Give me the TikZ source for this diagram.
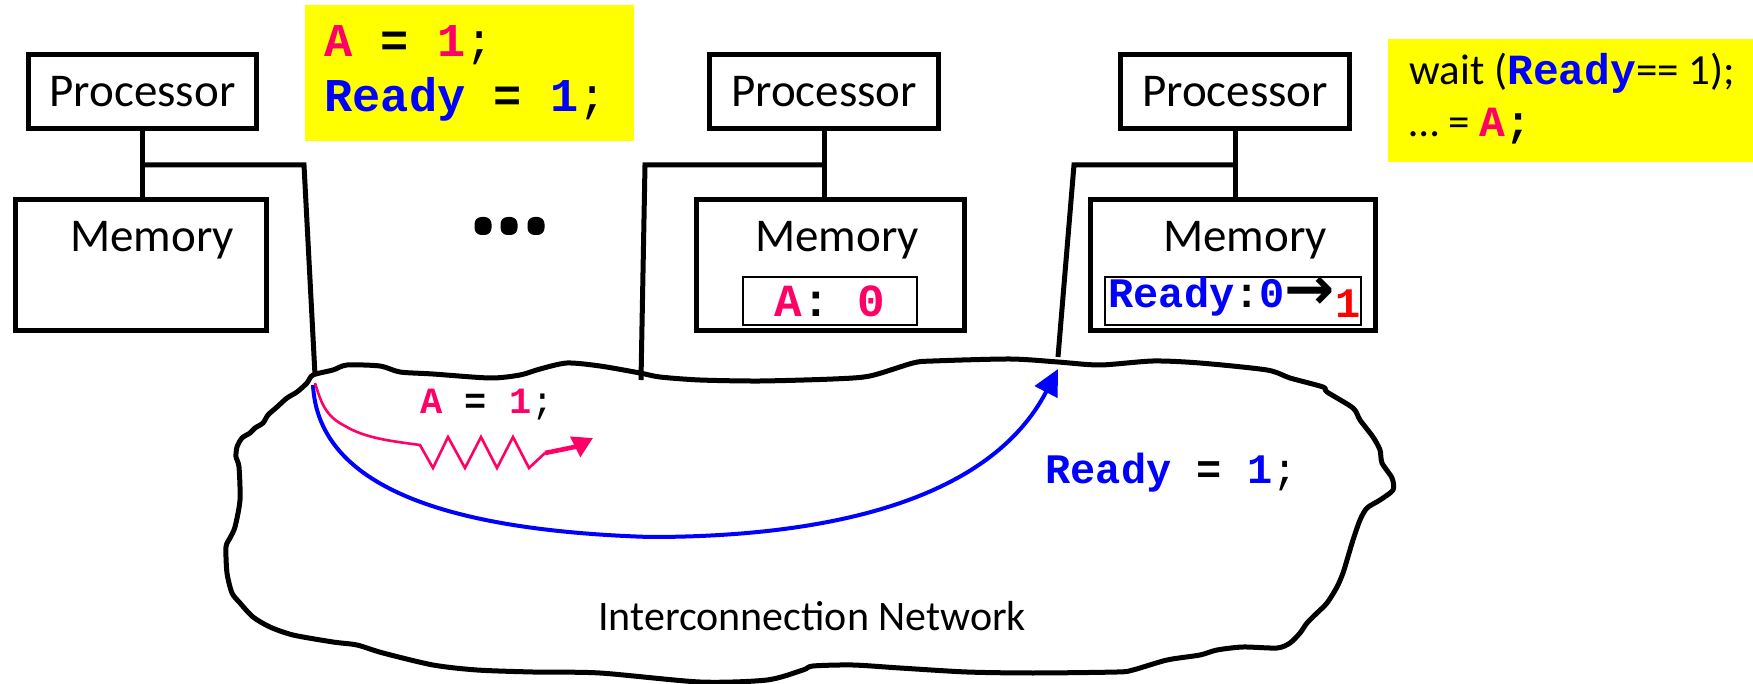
\documentclass[tikz,border=0pt]{standalone}
\usepackage{fontspec}
\setmainfont{Carlito}
\newfontfamily\cour{Liberation Mono}
\newfontfamily\djv{DejaVu Sans}
\usetikzlibrary{arrows.meta}
\definecolor{pinkc}{RGB}{255,0,102}
\definecolor{bluec}{RGB}{0,0,255}
\definecolor{redc}{RGB}{255,0,0}
\definecolor{yel}{RGB}{255,255,0}
\newcommand{\fsz}[1]{\fontsize{#1pt}{#1pt}\selectfont}
\newcommand{\cb}[2]{{\cour\bfseries\color{#1}\relax#2}}
\newcommand{\cregular}[2]{{\cour\color{#1}\relax#2}}
\begin{document}
\begin{tikzpicture}[x=0.5pt,y=-0.5pt,
  box/.style={draw, line width=2.5pt, inner sep=0pt, minimum height=37pt},
  membox/.style={draw, line width=2.5pt, inner sep=0pt, minimum height=65.5pt},
  cellbox/.style={draw, line width=1pt, inner sep=0pt, minimum height=24pt},
  lbl/.style={inner sep=0pt, anchor=base west},
  clbl/.style={inner sep=0pt, anchor=base},
  wire/.style={line width=2.5pt},
  note/.style={fill=yel, draw=none},
  dotn/.style={fill=black, inner sep=0pt, minimum width=8.5pt, minimum height=9pt, rounded corners=3.5pt},
  bigtxt/.style={font=\fsz{23.5}}]
\useasboundingbox (0,0) rectangle (1753,684);
\fill[white] (0,0) rectangle (1753,684);

% yellow notes
\fill[note] (305,5) rectangle (634,141);
\fill[note] (1388,39) rectangle (1753,162);
\node[lbl] (y1a) at (324,57) {\fsz{23.5}\cb{pinkc}{A}\cb{black}{ = }\cb{pinkc}{1}\cregular{black}{;}};
\node[lbl] (y1b) at (324,112) {\fsz{23.5}\cb{bluec}{Ready}\cb{black}{ = }\cb{bluec}{1}\cregular{black}{;}};
\node[lbl] (y2a) at (1409,85) {\fsz{21.5}wait (\cb{bluec}{Ready}== 1);};
\node[lbl] (y2b) at (1409,137) {\fsz{21.5}… = \cb{pinkc}{A}\cb{black}{;}};

% processors
\node[box, bigtxt, minimum width=114pt] (P1) at (142.5,91.5) {Processor};
\node[box, bigtxt, minimum width=114.5pt] (P2) at (824,91.5) {Processor};
\node[box, bigtxt, minimum width=114.5pt] (P3) at (1235,91.5) {Processor};

% memories
\node[membox, minimum width=125.5pt] (M1) at (141,265) {};
\node[membox, minimum width=134pt] (M2) at (830.5,265) {};
\node[membox, minimum width=142.5pt] (M3) at (1233,265) {};
\node[clbl, bigtxt] (m1t) at (152,252) {Memory};
\node[clbl, bigtxt] (m2t) at (837,252) {Memory};
\node[clbl, bigtxt] (m3t) at (1245,252) {Memory};

% memory cells
\node[cellbox, minimum width=87pt] (ca) at (830,301) {\fsz{23}\cb{pinkc}{A}\cb{black}{: }\cb{pinkc}{0}};
\node[cellbox, minimum width=128pt] (cr) at (1233,301.5) {};
\node[lbl] (crt) at (1108,308) {\fsz{21}\cb{bluec}{Ready}\cb{black}{:}\cb{bluec}{0}\raisebox{-1pt}{\djv\bfseries\fontsize{30pt}{30pt}\selectfont →}\raisebox{-5pt}{\cb{redc}{1}}};

% dots
\node[dotn] (e1) at (483,226) {};
\node[dotn] (e2) at (509,226) {};
\node[dotn] (e3) at (536,226) {};

% processor-memory links
\draw[wire] (P1.south) -- (P1.south |- M1.north);
\draw[wire] (P2.south) -- (P2.south |- M2.north);
\draw[wire] (P3.south) -- (P3.south |- M3.north);

% bus lines to network
\coordinate (k1) at (304,165); \coordinate (n1) at (315,375);
\coordinate (k2) at (645,165); \coordinate (n2) at (641,380);
\coordinate (k3) at (1074,165); \coordinate (n3) at (1058,357);
\draw[wire] (P1.south |- k1) -- (k1) -- (n1);
\draw[wire] (P2.south |- k2) -- (k2) -- (n2);
\draw[wire] (P3.south |- k3) -- (k3) -- (n3);

% cloud
\draw[line width=2.5pt, line join=round] plot[smooth cycle, tension=0.45] coordinates {
(313,375) (333,370) (347,365) (380,366) (400,372) (433,374) (490,378) (520,375) (540,369) (567,363) (600,366) (640,373) (660,377) (700,380) (760,381) (833,379) (870,376) (913,363) (933,361) (1010,359) (1058,362) (1100,365) (1153,361) (1200,363) (1267,370) (1290,378) (1323,387) (1327,392) (1353,408) (1360,420) (1373,437) (1380,450) (1382,463) (1392,478) (1393,490) (1380,500) (1367,508) (1360,520) (1353,540) (1347,560) (1343,573) (1337,587) (1327,603) (1317,613) (1307,623) (1300,633) (1290,643) (1277,648) (1243,647) (1217,650) (1200,655) (1167,660) (1133,670) (1117,672) (1033,673) (967,672) (900,668) (853,665) (813,666) (803,670) (767,680) (700,682) (600,673) (533,672) (477,670) (433,665) (383,653) (357,645) (333,642) (293,635) (270,627) (253,617) (240,603) (232,593) (227,573) (226,547) (230,538) (235,527) (240,500) (239,467) (236,457) (237,447) (242,438) (250,433) (255,428) (263,423) (268,415) (277,407) (287,398) (297,392) (307,383)};

\node[lbl] (net) at (598,630) {\fsz{21}Interconnection Network};

% blue message
\coordinate (bs) at (313,385); \coordinate (bt) at (1058,369);
\draw[bluec, line width=2pt, -{Triangle[length=13pt,width=12.5pt]}] (bs) .. controls (318,480) and (430,530) .. (650,537) .. controls (830,537) and (990,500) .. (bt);
\node[lbl] (rt) at (1045,484) {\fsz{21}\cb{bluec}{Ready}\cb{black}{ = }\cb{bluec}{1}\cregular{black}{;}};

% pink delayed message
\coordinate (ps) at (315,383); \coordinate (pm) at (545,453); \coordinate (pe) at (593,438);
\draw[pinkc, line width=1.3pt, line join=miter] (ps) .. controls (321,402) and (325,416) .. (345,426) .. controls (365,438) and (390,441) .. (420,445) -- (433,468) -- (448,437) -- (465,468) -- (481,437) -- (497,468) -- (513,437) -- (529,468) -- (pm);
\draw[pinkc, line width=2.3pt, -{Triangle[length=10pt,width=11pt]}] (pm) .. controls (560,450) and (575,447) .. (pe);
\node[lbl] (at) at (420,414) {\fsz{18.5}\cb{pinkc}{A}\cb{black}{ = }\cb{pinkc}{1}\cregular{black}{;}};
\end{tikzpicture}
\end{document}
